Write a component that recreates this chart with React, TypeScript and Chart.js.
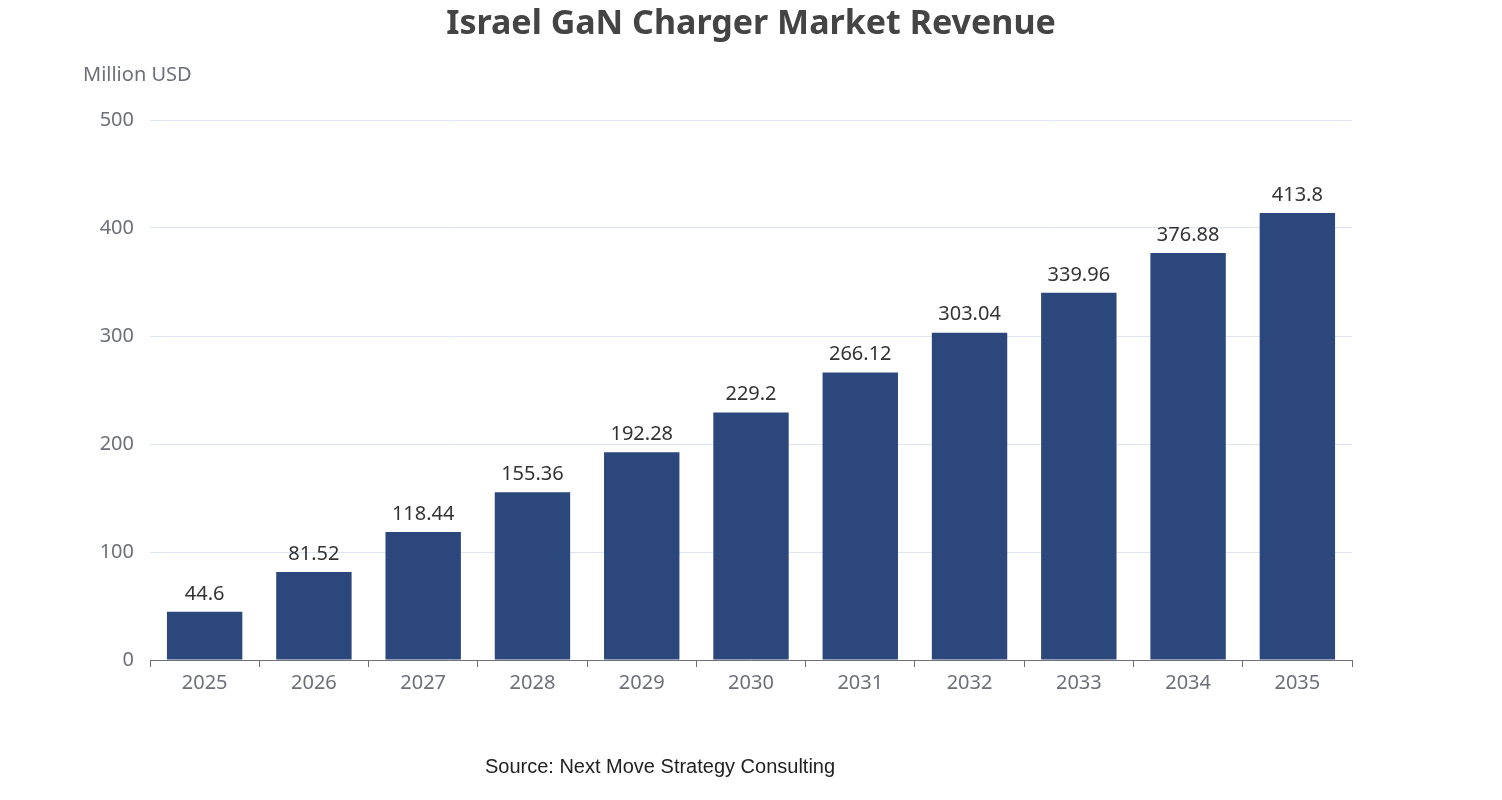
import React, { useEffect, useRef } from "react";
import { Chart, registerables } from "chart.js";
Chart.register(...registerables);

const years = ["2025","2026","2027","2028","2029","2030","2031","2032","2033","2034","2035"];
const revenue = [44.6, 81.52, 118.44, 155.36, 192.28, 229.2, 266.12, 303.04, 339.96, 376.88, 413.8];
const yTicks = [0, 100, 200, 300, 400, 500];

const FONT = "'Noto Sans', 'DejaVu Sans', sans-serif";

const textPlugin = {
  id: "texts",
  afterDatasetsDraw(chart: any) {
    const ctx = chart.ctx;
    const meta = chart.getDatasetMeta(0);
    ctx.save();
    ctx.fillStyle = "#333";
    ctx.font = `20px ${FONT}`;
    ctx.textAlign = "center";
    ctx.textBaseline = "bottom";
    meta.data.forEach((bar: any, i: number) => {
      ctx.fillText(String(revenue[i]), bar.x, bar.y - 8);
    });
    ctx.fillStyle = "#444";
    ctx.font = `bold 34px ${FONT}`;
    ctx.textBaseline = "middle";
    ctx.fillText("Israel GaN Charger Market Revenue", 751, 24);
    ctx.fillStyle = "#6e7079";
    ctx.font = `20px ${FONT}`;
    ctx.textAlign = "left";
    ctx.fillText("Million USD", 83, 75);
    ctx.fillStyle = "#222";
    ctx.font = `20px 'Liberation Sans', Arial, sans-serif`;
    ctx.textAlign = "center";
    ctx.fillText("Source: Next Move Strategy Consulting", 660, 767);
    ctx.restore();
  },
};

export default function App() {
  const ref = useRef<HTMLCanvasElement>(null);
  useEffect(() => {
    document.body.style.margin = "0";
    const chart = new Chart(ref.current!, {
      type: "bar",
      data: {
        labels: years,
        datasets: [{ data: revenue, backgroundColor: "#2b477b", barPercentage: 0.69, categoryPercentage: 1 }],
      },
      options: {
        animation: false,
        responsive: false,
        layout: { padding: { left: 0, right: 150, top: 120, bottom: 100 } },
        plugins: { legend: { display: false }, tooltip: { enabled: false } },
        scales: {
          x: {
            afterFit: (s: any) => { s.height = 40; },
            grid: { display: true, drawOnChartArea: false, offset: true, tickLength: 7, color: "#6e7079" },
            border: { color: "#6e7079" },
            ticks: { color: "#6e7079", font: { family: FONT, size: 20 }, padding: 4 },
          },
          y: {
            min: 0, max: 500,
            afterFit: (s: any) => { s.width = 150; },
            afterBuildTicks: (s: any) => { s.ticks = yTicks.map((v) => ({ value: v })); },
            grid: { color: "#e0e6f1", drawTicks: false },
            border: { display: false },
            ticks: { color: "#6e7079", font: { family: FONT, size: 20 }, padding: 16 },
          },
        },
      },
      plugins: [textPlugin],
    });
    return () => chart.destroy();
  }, []);
  return <canvas ref={ref} width={1502} height={800} style={{ display: "block" }} />;
}
